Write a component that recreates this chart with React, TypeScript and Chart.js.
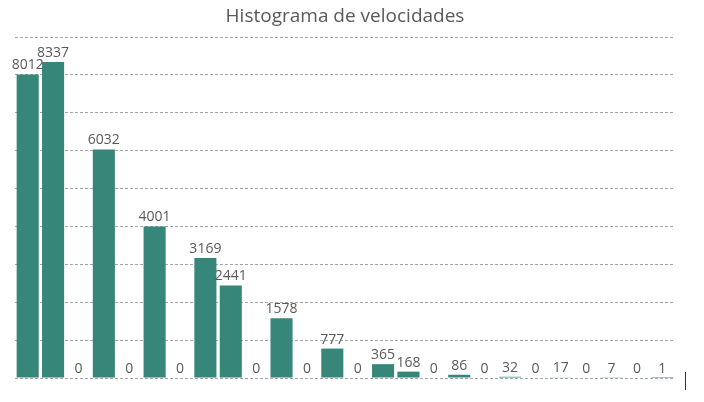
import React, { useEffect, useRef } from "react";
import { Chart, registerables } from "chart.js";

Chart.register(...registerables);

const title = "Histograma de velocidades";
const categories = [
  "1", "2", "3", "4", "5", "6", "7", "8", "9", "10", "11", "12", "13",
  "14", "15", "16", "17", "18", "19", "20", "21", "22", "23", "24", "25", "26",
];
const counts = [
  8012, 8337, 0, 6032, 0, 4001, 0, 3169, 2441, 0, 1578, 0, 777, 0, 365, 168, 0,
  86, 0, 32, 0, 17, 0, 7, 0, 1,
];
const yMax = 9000;
const yStep = 1000;

const labelPlugin = {
  id: "barLabels",
  afterDatasetsDraw(chart: any) {
    const ctx = chart.ctx;
    const meta = chart.getDatasetMeta(0);
    ctx.save();
    ctx.font = "14px 'Open Sans'";
    ctx.fillStyle = "#595959";
    ctx.textAlign = "center";
    ctx.textBaseline = "bottom";
    meta.data.forEach((bar: any, i: number) => {
      ctx.fillText(String(counts[i]), bar.x, bar.y - 2);
    });
    ctx.restore();
  },
  afterDraw(chart: any) {
    const ctx = chart.ctx;
    ctx.save();
    ctx.font = "19px 'Open Sans'";
    ctx.fillStyle = "#595959";
    ctx.textAlign = "center";
    ctx.textBaseline = "middle";
    ctx.fillText(title, 345, 17);
    ctx.restore();
  },
};

export default function App() {
  const ref = useRef<HTMLCanvasElement>(null);
  useEffect(() => {
    document.body.style.margin = "0";
    const chart = new Chart(ref.current!, {
      type: "bar",
      data: {
        labels: categories,
        datasets: [
          {
            data: counts,
            backgroundColor: "#37867A",
            barPercentage: 0.87,
            categoryPercentage: 1,
          },
        ],
      },
      options: {
        animation: false,
        responsive: false,
        maintainAspectRatio: false,
        layout: { padding: { top: 37, bottom: 24, left: 15, right: 29 } },
        plugins: { legend: { display: false }, title: { display: false }, tooltip: { enabled: false } },
        scales: {
          x: {
            display: true,
            grid: { display: false },
            border: { display: false },
            ticks: { display: false },
            afterFit: (s: any) => { s.height = 0; },
          },
          y: {
            min: 0,
            max: yMax,
            ticks: { display: false, stepSize: yStep },
            border: { display: false, dash: [3, 2] },
            grid: {
              color: "#a6a6a6",
              lineWidth: 1,
              drawTicks: false,
            },
            afterFit: (s: any) => { s.width = 0; },
          },
        },
      },
      plugins: [labelPlugin],
    });
    return () => chart.destroy();
  }, []);
  return (
    <div style={{ position: "relative", width: 704, height: 402, background: "#fff" }}>
      <canvas ref={ref} width={704} height={402} style={{ display: "block" }} />
      <div style={{ position: "absolute", left: 685, top: 372, width: 1, height: 18, background: "#333" }} />
    </div>
  );
}
